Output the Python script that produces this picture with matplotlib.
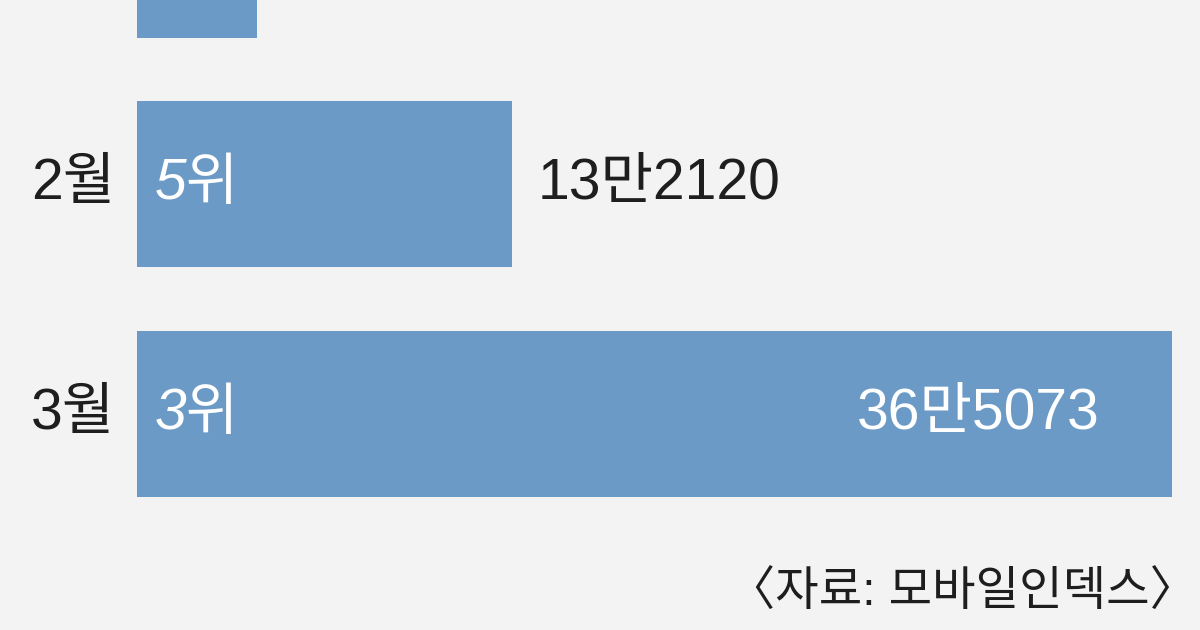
import matplotlib.pyplot as plt

# data (top bar is cut off by the crop)
months = ["1월", "2월", "3월"]
users = [42300, 132120, 365073]
value_labels = ["", "13만2120", "36만5073"]
ranks = ["", "5위", "3위"]
source = "〈자료: 모바일인덱스〉"

bar_color = "#6b9ac6"
bg = "#f3f3f3"
text_color = "#1e1e1e"
fonts = ["Liberation Sans", "Noto Sans CJK KR", "DejaVu Sans"]

fig = plt.figure(figsize=(12, 6.3), dpi=100, facecolor=bg)
ax = fig.add_axes([0, 0, 1, 1])
ax.set_facecolor(bg)

ypos = list(range(len(months)))
ax.barh(ypos, users, height=0.723, color=bar_color, left=0)

# map data space onto the canvas: bars start 137px in, 3월 bar is 1035px long
scale = users[2] / 1035
ax.set_xlim(-137 * scale, (1200 - 137) * scale)
ax.set_ylim(2.943, 0.198)
ax.axis("off")

for i, (m, v, lab, r) in enumerate(zip(months, users, value_labels, ranks)):
    if i == 0:
        continue  # first row is cropped out of the picture, only its bar end shows
    ax.text(-22 * scale, i, m, ha="right", va="center", fontsize=41,
            color=text_color, family=fonts)
    if r:
        ax.text(18 * scale, i, r, ha="left", va="center", fontsize=41,
                color="white", style="italic", family=fonts)
    if lab:
        if v > users[2] * 0.6:
            ax.text(v - 72 * scale, i, lab, ha="right", va="center",
                    fontsize=41, color="white", family=fonts)
        else:
            ax.text(v + 26 * scale, i, lab, ha="left", va="center",
                    fontsize=41, color=text_color, family=fonts)

fig.text(0.997, 0.022, source, ha="right", va="bottom", fontsize=34,
         color=text_color, family=fonts)

fig.savefig("out.png", dpi=100, facecolor=bg)
